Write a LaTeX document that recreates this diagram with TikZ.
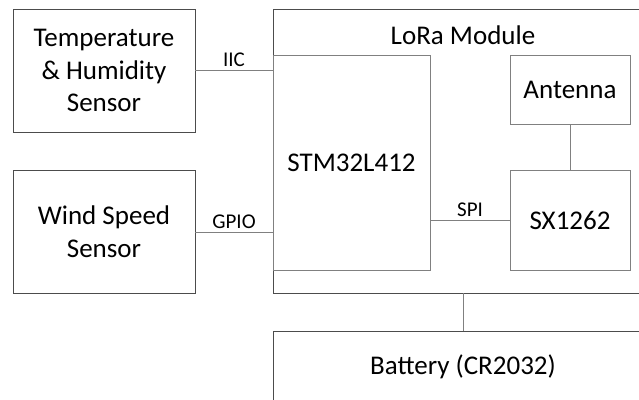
\documentclass[tikz,border=0pt]{standalone}
\usepackage{fontspec}
\setmainfont{Carlito}
\begin{document}
\begin{tikzpicture}[x=1pt,y=-1pt,
  box/.style={draw=black!70,line width=1pt},
  inner/.style={draw=black!50,line width=1pt},
  wire/.style={draw=black!50,line width=1pt},
  big/.style={font=\fontsize{27}{32.5}\selectfont,align=center},
  small/.style={font=\fontsize{21}{24}\selectfont}]
\useasboundingbox (0,0) rectangle (639,399);
\fill[white] (0,0) rectangle (639,399);
% boxes
\draw[box] (13,9) rectangle (195,132);
\node[big] (temp) at (104,70.5) {Temperature\\\& Humidity\\Sensor};
\draw[box] (13,170) rectangle (195,293);
\node[big] (wind) at (104,231.5) {Wind Speed\\Sensor};
\draw[box] (273,9) rectangle (645,293);
\node[big] (lora) at (463,35) {LoRa Module};
\draw[inner] (273,55) rectangle (430,270);
\node[big] (stm) at (351.5,162.5) {STM32L412};
\draw[inner] (510,55) rectangle (630,124);
\node[big] (ant) at (570,89.5) {Antenna};
\draw[inner] (510,170) rectangle (630,270);
\node[big] (sx) at (570,220) {SX1262};
\draw[box] (273,331) rectangle (645,410);
\node[big] (bat) at (463,367) {Battery (CR2032)};
% connectors
\coordinate (tempR) at (195,70.5);
\coordinate (stmL1) at (273,70.5);
\draw[wire] (tempR) -- node[small,above,inner sep=3pt] (iic) {IIC} (stmL1);
\coordinate (windR) at (195,232);
\coordinate (stmL2) at (273,232);
\draw[wire] (windR) -- node[small,above,inner sep=3pt] (gpio) {GPIO} (stmL2);
\coordinate (stmR) at (430,220);
\coordinate (sxL) at (510,220);
\draw[wire] (stmR) -- node[small,above,inner sep=3pt] (spi) {SPI} (sxL);
\coordinate (antB) at (570,124);
\coordinate (sxT) at (570,170);
\draw[wire] (antB) -- (sxT);
\coordinate (loraB) at (463,293);
\coordinate (batT) at (463,331);
\draw[wire] (loraB) -- (batT);
\end{tikzpicture}
\end{document}
